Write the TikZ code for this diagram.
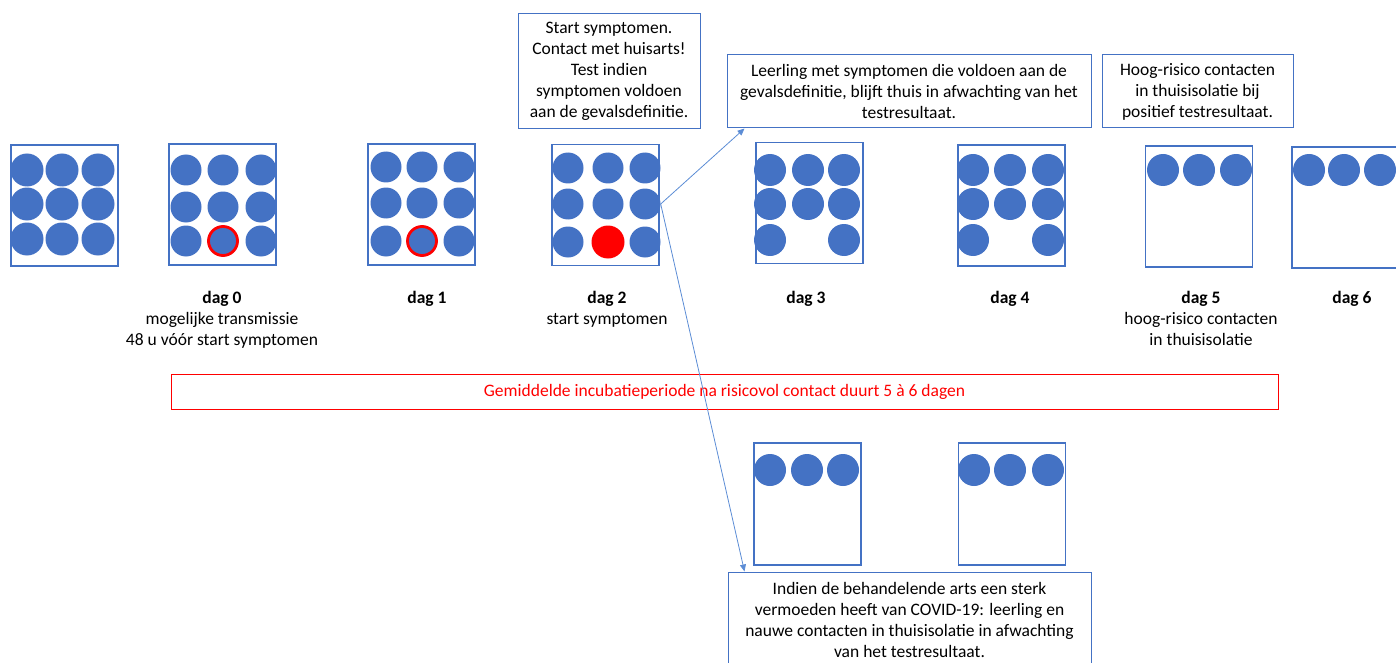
\documentclass[tikz,border=0pt]{standalone}
\usepackage{fontspec}
\setmainfont{Carlito}
\usetikzlibrary{arrows.meta}
\definecolor{covblue}{RGB}{68,114,196}
\definecolor{linkblue}{RGB}{91,140,213}
\definecolor{alarmred}{RGB}{255,0,0}

\begin{document}
\begin{tikzpicture}[x=1pt,y=-1pt,
  pers/.style={circle,fill=covblue,minimum size=31pt,inner sep=0pt},
  klas/.style={draw=covblue,line width=1.1pt,minimum width=107pt,minimum height=121pt,inner sep=0pt},
  uitleg/.style={draw=covblue,line width=1pt,align=center,inner sep=0pt},
  daglabel/.style={align=center,anchor=north,inner sep=0pt},
  link/.style={linkblue,line width=0.8pt,-{Triangle[length=7pt,width=6pt]}}]
\fontsize{17.5}{21}\selectfont
\useasboundingbox (0,0) rectangle (1396,663);

% klassen per dag
\node[klas] (k0) at (64.5,205.5) {};
\node[klas] (k1) at (222.5,204.5) {};
\node[klas] (k2) at (421.5,204.5) {};
\node[klas] (k3) at (605.5,205) {};
\node[klas] (k4) at (809.5,203) {};
\node[klas] (k5) at (1011.5,205.5) {};
\node[klas] (k6) at (1199,206.5) {};
\node[klas] (k7) at (1345.5,207.5) {};
\node[klas,minimum height=122pt] (k8) at (807.5,504) {};
\node[klas,minimum height=122pt] (k9) at (1012,504) {};

% leerlingen
\foreach \x [count=\i] in {27,62,98}
  \foreach \y [count=\j] in {170,204,239}
    \node[pers,minimum size=33pt] (a-\i\j) at (\x,\y) {};
\foreach \x [count=\i] in {186,223,261}
  \foreach \y [count=\j] in {170,207,241}
    \node[pers] (b-\i\j) at (\x,\y) {};
\foreach \x [count=\i] in {386,422,459}
  \foreach \y [count=\j] in {167,203,241}
    \node[pers] (c-\i\j) at (\x,\y) {};
\foreach \x [count=\i] in {568,608,645}
  \foreach \y [count=\j] in {168,204,242}
    \node[pers] (d-\i\j) at (\x,\y) {};
\foreach \x [count=\i] in {770,808,844}
  \foreach \y [count=\j] in {170,204}
    \node[pers,minimum size=32pt] (e-\i\j) at (\x,\y) {};
\foreach \x [count=\i] in {973,1010,1048}
  \foreach \y [count=\j] in {170,204}
    \node[pers,minimum size=32pt] (f-\i\j) at (\x,\y) {};
\node[pers,minimum size=32pt] (e-13) at (770,240) {};
\node[pers,minimum size=32pt] (e-33) at (844,240) {};
\node[pers,minimum size=32pt] (f-13) at (973,240) {};
\node[pers,minimum size=32pt] (f-33) at (1048,240) {};
\foreach \x [count=\i] in {1163,1199,1236}
  \node[pers,minimum size=32pt] (g-\i) at (\x,170) {};
\foreach \x [count=\i] in {1309,1344,1380}
  \node[pers,minimum size=32pt] (h-\i) at (\x,170) {};
\foreach \x [count=\i] in {770,807,843}
  \node[pers,minimum size=32pt] (m-\i) at (\x,470) {};
\foreach \x [count=\i] in {974,1010,1048}
  \node[pers,minimum size=32pt] (n-\i) at (\x,470) {};

% besmette leerling
\node[pers,draw=alarmred,line width=2.8pt,minimum size=29pt] (b-23) at (223,241) {};
\node[pers,draw=alarmred,line width=2.8pt,minimum size=29pt] (c-23) at (422,241) {};
\node[pers,fill=alarmred,minimum size=33pt] (d-23) at (608,242) {};

% dagen
\node[daglabel] (l0) at (222,291) {\textbf{dag 0}\\mogelijke transmissie\\48 u vóór start symptomen};
\node[daglabel] (l1) at (427,291) {\textbf{dag 1}};
\node[daglabel] (l2) at (607,291) {\textbf{dag 2}\\start symptomen};
\node[daglabel] (l3) at (806,291) {\textbf{dag 3}};
\node[daglabel] (l4) at (1010,291) {\textbf{dag 4}};
\node[daglabel] (l5) at (1201,291) {\textbf{dag 5}\\hoog-risico contacten\\in thuisisolatie};
\node[daglabel] (l6) at (1352,291) {\textbf{dag 6}};

% toelichting
\node[uitleg,minimum width=182pt,minimum height=115pt] (start) at (609,71.5)
  {Start symptomen.\\Contact met huisarts!\\Test indien\\symptomen voldoen\\aan de gevalsdefinitie.};
\node[uitleg,minimum width=364pt,minimum height=73pt] (leerling) at (909,91.5)
  {Leerling met symptomen die voldoen aan de\\gevalsdefinitie, blijft thuis in afwachting van het\\testresultaat.};
\node[uitleg,minimum width=191pt,minimum height=73pt] (hoog) at (1197.5,91.5)
  {Hoog-risico contacten\\in thuisisolatie bij\\positief testresultaat.};
\node[uitleg,draw=alarmred,text=alarmred,minimum width=1107pt,minimum height=35pt] (incubatie) at (724.5,391.5)
  {Gemiddelde incubatieperiode na risicovol contact duurt 5 à 6 dagen};
\node[uitleg,minimum width=363pt,minimum height=95pt] (indien) at (909.5,619.5)
  {Indien de behandelende arts een sterk\\vermoeden heeft van COVID-19: leerling en\\nauwe contacten in thuisisolatie in afwachting\\van het testresultaat.};

\draw[link] (d-32.east) -- ([xshift=18pt]leerling.south west);
\draw[link] (d-32.east) -- ([xshift=17pt]indien.north west);
\end{tikzpicture}
\end{document}
